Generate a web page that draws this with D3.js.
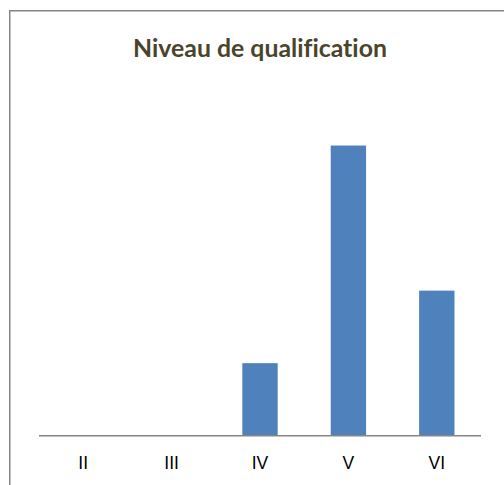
<!DOCTYPE html>
<html>
<head>
<meta charset="utf-8">
<script src="https://cdn.jsdelivr.net/npm/d3@7"></script>
<style>
  body { margin: 0; background: #fff; }
</style>
</head>
<body>
<div id="chart"></div>
<script>
// chart data
var categories = ["II", "III", "IV", "V", "VI"];
var values = [0, 0, 1, 4, 2];
var yMax = 5;
var title = "Niveau de qualification";

var width = 504, height = 485;
var margin = {top: 73, right: 23, bottom: 49.3, left: 39};

var svg = d3.select("#chart")
  .append("svg")
    .attr("width", width)
    .attr("height", height);

// chart frame (cut at right and bottom edge)
svg.append("rect")
  .attr("x", 9.75)
  .attr("y", 10.75)
  .attr("width", 520)
  .attr("height", 500)
  .style("fill", "none")
  .style("stroke", "#868686")
  .style("stroke-width", 1.5);

var x = d3.scaleBand()
  .domain(categories)
  .range([margin.left, width - margin.right])
  .paddingInner(0.6)
  .paddingOuter(0.3);

var y = d3.scaleLinear()
  .domain([0, yMax])
  .range([height - margin.bottom, margin.top]);

// bars
svg.append("g")
  .selectAll("rect")
  .data(values)
  .enter()
  .append("rect")
    .attr("x", function (d, i) { return x(categories[i]); })
    .attr("y", function (d) { return y(d); })
    .attr("width", x.bandwidth())
    .attr("height", function (d) { return y(0) - y(d); })
    .style("fill", "#4f81bd");

// x axis
var xAxis = svg.append("g")
  .attr("transform", "translate(0," + y(0) + ")")
  .call(d3.axisBottom(x).tickSize(0).tickPadding(21));

xAxis.select(".domain")
  .attr("d", "M" + margin.left + ",0H" + (width - margin.right))
  .style("stroke", "#868686")
  .style("stroke-width", 1.5);

xAxis.selectAll("text")
  .style("font-family", "'Liberation Sans', Arial, sans-serif")
  .style("font-size", "17.5px")
  .style("fill", "#000");

// title
var t = svg.append("text")
  .attr("x", 260)
  .attr("y", 56.5)
  .style("text-anchor", "middle")
  .style("font-family", "Lato, 'Open Sans', sans-serif")
  .style("font-weight", "bold")
  .style("font-size", "20px")
  .style("font-variant-ligatures", "none")
  .style("fill", "#4a452a")
  .text(title);

// fit title to the width seen in the picture
var len = t.node().getComputedTextLength();
t.style("font-size", (20 * 254 / len) + "px");
</script>
</body>
</html>
